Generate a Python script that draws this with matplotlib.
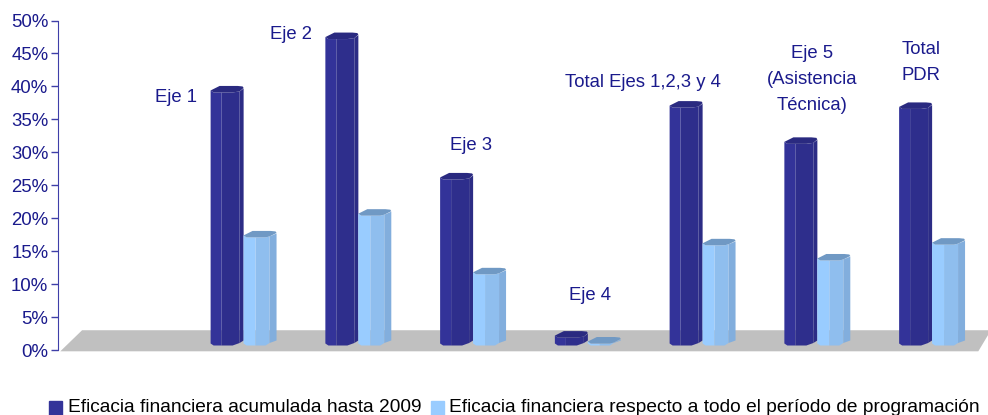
import matplotlib
matplotlib.use('Agg')
import matplotlib.pyplot as plt
from matplotlib.patches import Patch

plt.rcParams['font.family'] = ['Liberation Sans', 'DejaVu Sans']

acumulada = [38.4, 46.5, 25.2, 1.2, 36.1, 30.6, 35.9]
periodo = [16.4, 19.7, 10.8, 0.3, 15.2, 12.9, 15.3]
categorias = [1, 2, 3, 4, 5, 6, 7]
etiquetas = ['Eje 1', 'Eje 2', 'Eje 3', 'Eje 4', 'Total Ejes 1,2,3 y 4',
             'Eje 5\n(Asistencia\nTécnica)', 'Total\nPDR']
etiqueta_x = [1.03, 2.03, 3.60, 4.64, 5.10, 6.57, 7.52]
etiqueta_y = [38.3, 47.8, 31.0, 8.3, 40.6, 41.0, 43.6]
ticks = [0, 5, 10, 15, 20, 25, 30, 35, 40, 45, 50]

PX_X = 114.75
PX_Y = 6.59
BASE = 4.5 / PX_Y

fig = plt.figure(figsize=(9.88, 4.15), dpi=100)
ax = fig.add_axes([58 / 988, 65 / 415, 918 / 988, 329.5 / 415])
ax.set_xlim(0, 8)
ax.set_ylim(0, 50)


def cylinder(x, val, cols, s1, s2):
    # x en unidades de categoria, val en %, el resto en pixeles
    h = val * PX_Y
    def poly(pts, c, z):
        xs = [x + p[0] / PX_X for p in pts]
        ys = [BASE + p[1] / PX_Y for p in pts]
        ax.fill(xs, ys, color=c, lw=0, zorder=z, clip_on=False)
    z = 3 + x / 100
    poly([(0, 2), (3, 0), (s1, 0), (s1, h), (3, h), (0, h + 2)], cols[0], z)
    poly([(s1, 0), (22, 0), (s2, 2.5), (s2, h + 1), (22, h), (s1, h)], cols[1], z)
    poly([(s2, 2.5), (33, 5), (33, h + 4), (s2, h + 1)], cols[2], z)
    poly([(0, h + 2), (9, h + 6.5), (27, h + 6.5), (32, h + 6), (33, h + 4.5),
          (s2, h + 1), (22, h), (3, h)], cols[3], z + 0.001)


# suelo
ax.fill([0.02, 0.21, 8.13, 8.02], [-0.2, 3.0, 3.0, -0.2], color='#c0c0c0', lw=0,
        zorder=1, clip_on=False)

oscuro = ['#333399', '#2e2e8c', '#2c2c85', '#2a2a80']
claro = ['#99ccff', '#8fbeee', '#82aedd', '#7099c4']
for c, a, p in zip(categorias, acumulada, periodo):
    cylinder(c + 0.33, a, oscuro, 11, 29)
    cylinder(c + 0.617, p, claro, 12, 26)

for x, y, t in zip(etiqueta_x, etiqueta_y, etiquetas):
    ax.text(x, y, t, ha='center', va='center', fontsize=13.3, color='#1a1a8c',
            linespacing=1.7, zorder=5)

for s in ['top', 'right', 'bottom']:
    ax.spines[s].set_visible(False)
ax.spines['left'].set_color('#3f3fa8')
ax.set_xticks([])
ax.set_yticks(ticks)
ax.set_yticklabels([f'{t}%' for t in ticks])
ax.tick_params(axis='y', length=5, width=1, color='#3f3fa8', labelcolor='#1a1a8c',
               labelsize=13.4, pad=2)

leg = fig.legend(handles=[Patch(color='#333399', label='Eficacia financiera acumulada hasta 2009'),
                          Patch(color='#99ccff', label='Eficacia financiera respecto a todo el período de programación')],
                 loc='lower left', bbox_to_anchor=(36 / 988, -14 / 415), ncol=2, frameon=False,
                 fontsize=13.8, handlelength=0.68, handleheight=0.68, handletextpad=0.29,
                 columnspacing=0.47, labelcolor='black', borderpad=0.2)
for p in leg.get_patches():
    p.set_y(p.get_y() - 2.2)

fig.savefig('out.png', dpi=100)
